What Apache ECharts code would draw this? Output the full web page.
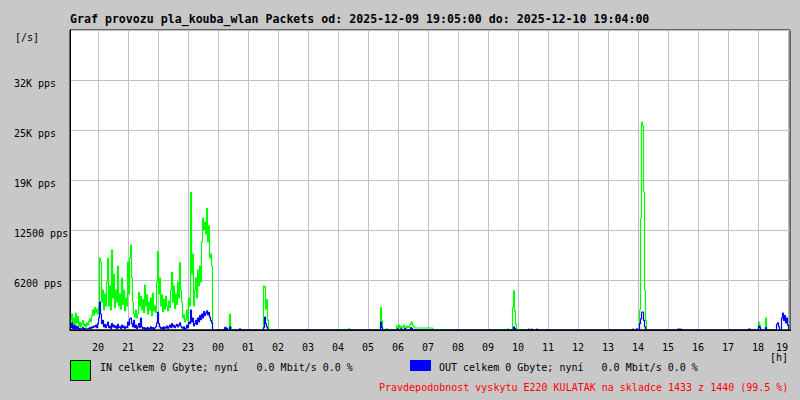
<!DOCTYPE html>
<html><head><meta charset="utf-8">
<script src="https://cdn.jsdelivr.net/npm/echarts@6/dist/echarts.min.js"></script>
<style>html,body{margin:0;padding:0;background:#c8c8c8}#c{width:800px;height:400px}</style>
</head><body><div id="c"></div><script>
const titleText = 'Graf provozu pla_kouba_wlan Packets od: 2025-12-09 19:05:00 do: 2025-12-10 19:04:00';
const inLegendText = 'IN celkem 0 Gbyte; nyní   0.0 Mbit/s 0.0 %';
const outLegendText = 'OUT celkem 0 Gbyte; nyní   0.0 Mbit/s 0.0 %';
const footerText = 'Pravdepodobnost vyskytu E220 KULATAK na skladce 1433 z 1440 (99.5 %)';
const yUnitText = '[/s]';
const xUnitText = '[h]';

// x axis: minutes after 2025-12-09 19:00
const hourMinutes = [60,120,180,240,300,360,420,480,540,600,660,720,780,840,900,960,1020,1080,1140,1200,1260,1320,1380,1440];
const hourLabels = ['20','21','22','23','00','01','02','03','04','05','06','07','08','09','10','11','12','13','14','15','16','17','18','19'];
const yTickValues = [6250,12500,18750,25000,31250];
const yTickLabels = ['6200 pps','12500 pps','19K pps','25K pps','32K pps'];

// busy period: samples every 2 minutes from 19:05
const busyStartMinute = 5;
const sampleStep = 2;
const inBusy = [
1200,2000,800,1500,600,2100,900,1700,500,1000,
400,800,1200,500,700,400,900,600,1100,1400,
1000,1800,2500,1900,2800,2200,2600,2000,3000,9000,
8500,3500,5000,2500,4500,3000,6000,9000,3000,5500,
2500,10000,4000,7000,2800,5000,3500,8000,3000,4500,
2600,6500,3200,5000,2400,4000,3000,8500,4500,9000,
10600,6500,3500,2000,1600,2500,1500,2000,4700,3000,
4200,2500,3800,2200,5600,3000,4400,2000,3500,2500,
4000,1800,4600,2400,3000,2200,6000,9800,4500,6500,
3000,4400,2300,3800,2600,4200,3000,2400,3600,2800,
5000,7200,3500,5500,2700,4500,3200,6000,4000,8400,
5000,3500,1500,1900,1000,1400,2500,1200,4000,3000,
17200,7000,9500,3000,5000,6500,4000,7500,5500,8000,
6000,11000,14000,12500,13500,12000,15200,11000,13000,9000,
9500,8000];
const outBusy = [
300,900,200,600,100,500,200,400,100,200,
100,150,300,100,200,100,150,100,200,300,
200,400,300,500,400,600,300,800,1500,3500,
2000,800,1200,400,700,300,600,1000,300,500,
200,800,400,600,300,500,200,700,300,400,
200,600,300,500,200,400,300,1000,600,1400,
1500,800,400,1200,300,600,200,400,800,300,
1500,400,200,300,100,250,150,300,100,200,
400,150,300,100,250,400,900,2200,800,400,
200,300,100,400,200,300,500,200,400,600,
300,800,400,600,300,500,700,400,600,900,
500,300,200,400,100,200,600,300,1000,800,
2500,1000,1500,500,800,1200,700,1500,1000,1800,
1300,2000,1500,2300,1800,2100,2400,1900,2200,1600,
1200,900];

// rest of the day: [minute after 19:00, pps]
const inRest = [
[289,0],[315,400],[317,200],[319,0],[323,2000],[325,400],[327,0],
[391,5500],[393,5400],[395,2600],[397,3800],[399,1200],[401,0],
[561,150],[563,0],[625,2800],[627,1200],[629,0],[637,150],[639,0],
[657,500],[659,200],[661,600],[663,300],[665,500],[667,200],[669,400],[671,600],[673,300],[675,200],
[677,500],[679,300],[681,400],[683,600],[685,800],[687,1000],[689,600],[691,400],[693,250],[729,0],
[879,150],[881,0],[889,2800],[891,4900],[893,2400],[895,700],[897,0],
[1143,2500],[1145,14000],[1147,26000],[1149,25500],[1151,17250],[1153,5000],[1155,1200],[1157,0],
[1381,1000],[1383,600],[1385,0],[1395,1500],[1397,0],[1443,0]];
const outRest = [
[289,0],[313,300],[315,0],[317,200],[319,0],[323,400],[325,0],[343,150],[345,0],
[391,300],[393,1600],[395,800],[397,400],[399,0],
[625,1000],[627,300],[629,0],
[659,150],[661,0],[665,150],[667,0],[673,200],[675,0],[685,300],[687,200],[689,0],
[891,400],[893,200],[895,0],[921,100],[923,0],[927,100],[929,0],[937,100],[939,0],
[1129,100],[1131,0],[1137,150],[1139,0],
[1143,800],[1145,1400],[1147,2250],[1149,2250],[1151,1200],[1153,400],[1155,0],
[1219,100],[1221,100],[1223,0],[1225,100],[1227,0],[1361,100],[1363,100],[1365,0],
[1381,500],[1383,300],[1385,0],[1395,300],[1397,0],
[1417,700],[1419,900],[1421,400],[1423,0],
[1427,1500],[1429,2100],[1431,1200],[1433,1800],[1435,900],[1437,1500],[1439,600],[1441,0],[1443,0]];

function build(busy, rest) {
  return busy.map((v, i) => [busyStartMinute + i * sampleStep, v]).concat(rest);
}

const mono = '"DejaVu Sans Mono", "Liberation Mono", monospace';
const chart = echarts.init(document.getElementById('c'), null, {renderer: 'svg'});
chart.setOption({
  backgroundColor: '#c8c8c8',
  animation: false,
  grid: {left: 70, top: 30, width: 720, height: 300, show: true, backgroundColor: '#ffffff', borderColor: '#000000', borderWidth: 1},
  xAxis: {
    type: 'value', min: 4, max: 1444,
    axisLine: {show: true, onZero: false, lineStyle: {color: '#000', width: 1}},
    axisTick: {show: false, customValues: hourMinutes},
    axisLabel: {customValues: hourMinutes, margin: 12, color: '#000', fontFamily: mono, fontSize: 10,
      alignMaxLabel: 'right',
      formatter: v => hourLabels[hourMinutes.indexOf(v)] || ''},
    splitLine: {show: true, lineStyle: {color: '#c0c0c0', width: 1}}
  },
  yAxis: {
    type: 'value', min: 0, max: 37500, interval: 6250,
    axisLine: {show: true, lineStyle: {color: '#000', width: 1}},
    axisTick: {show: false},
    axisLabel: {align: 'left', margin: 56, color: '#000', fontFamily: mono, fontSize: 10,
      verticalAlign: 'top', lineHeight: 6,
      formatter: v => { const i = yTickValues.indexOf(v); return i >= 0 ? yTickLabels[i] : ''; }},
    splitLine: {show: true, lineStyle: {color: '#c0c0c0', width: 1}}
  },
  series: [
    {type: 'line', name: 'IN', step: 'end', showSymbol: false, data: build(inBusy, inRest),
      lineStyle: {color: '#00ff00', width: 1.2}, itemStyle: {color: '#00ff00'}, z: 2},
    {type: 'line', name: 'OUT', step: 'end', showSymbol: false, data: build(outBusy, outRest),
      lineStyle: {color: '#0000ff', width: 1.2}, itemStyle: {color: '#0000ff'}, z: 3}
  ],
  graphic: [
    {type: 'rect', z: 100, shape: {x: 70, y: 329.5, width: 721, height: 1.5}, style: {fill: '#000'}},
    {type: 'text', z: 100, style: {text: titleText, x: 70, y: 19, fill: '#000', font: 'bold 11.6px ' + mono, textVerticalAlign: 'middle', verticalAlign: 'middle'}},
    {type: 'text', z: 100, style: {text: yUnitText, x: 15, y: 37, fill: '#000', font: '10px ' + mono, textVerticalAlign: 'middle', verticalAlign: 'middle'}},
    {type: 'text', z: 100, style: {text: xUnitText, x: 770, y: 357, fill: '#000', font: '10px ' + mono, textVerticalAlign: 'middle', verticalAlign: 'middle'}},
    {type: 'rect', z: 100, shape: {x: 70.5, y: 360.5, width: 20, height: 20}, style: {fill: '#00ff00', stroke: '#000', lineWidth: 1}},
    {type: 'text', z: 100, style: {text: inLegendText, x: 100, y: 367, fill: '#000', font: '10px ' + mono, textVerticalAlign: 'middle', verticalAlign: 'middle'}},
    {type: 'rect', z: 100, shape: {x: 410, y: 360, width: 21, height: 11}, style: {fill: '#0000ff'}},
    {type: 'text', z: 100, style: {text: outLegendText, x: 439, y: 367, fill: '#000', font: '10px ' + mono, textVerticalAlign: 'middle', verticalAlign: 'middle'}},
    {type: 'text', z: 100, style: {text: footerText, x: 379, y: 387, fill: '#ff0000', font: '10px ' + mono, textVerticalAlign: 'middle', verticalAlign: 'middle'}}
  ]
});
</script></body></html>
